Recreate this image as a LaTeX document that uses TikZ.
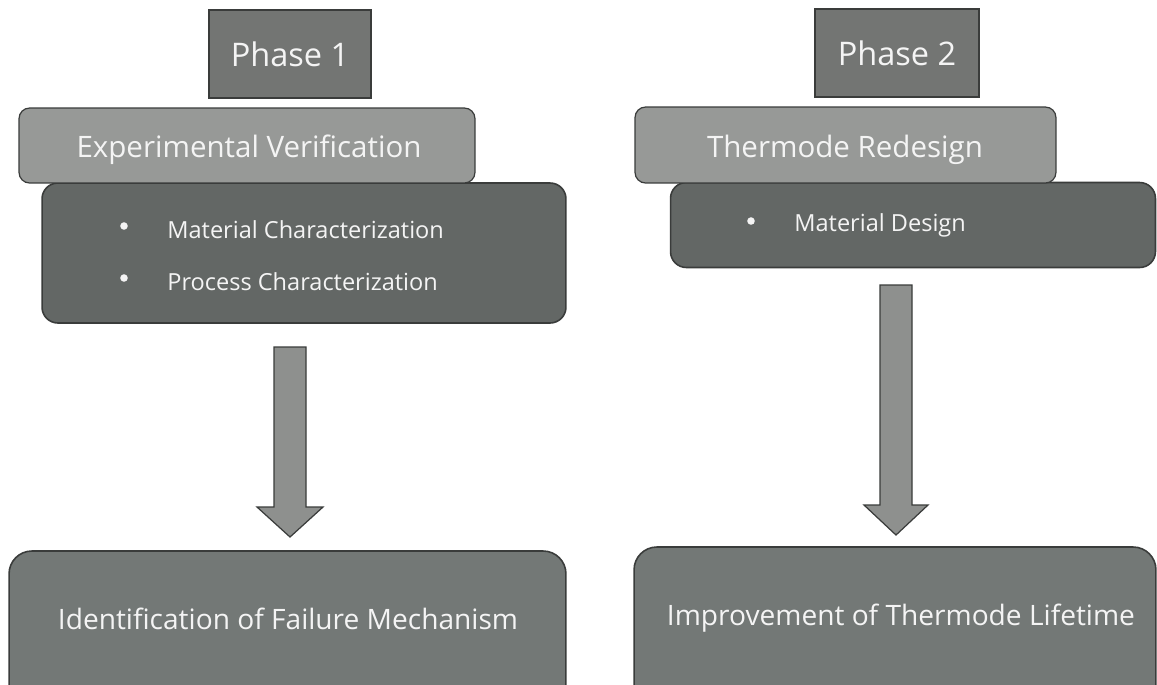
\documentclass[tikz,border=0pt]{standalone}
\usepackage{fontspec}
\setmainfont{Open Sans}
\definecolor{phasegray}{HTML}{737573}
\definecolor{headgray}{HTML}{979997}
\definecolor{listgray}{HTML}{636765}
\definecolor{outgray}{HTML}{737876}
\definecolor{arrowgray}{HTML}{8E908E}
\definecolor{edgegray}{HTML}{3A3C3B}
\definecolor{lettering}{HTML}{F4F4F4}
\tikzset{
  phasebox/.style={draw=edgegray, line width=0.9pt, fill=phasegray, inner sep=0pt,
    text=lettering, font=\fontsize{18.5}{22}\selectfont},
  headbox/.style={draw=edgegray, line width=0.7pt, fill=headgray, rounded corners=6pt,
    inner sep=0pt, text=lettering, font=\fontsize{16.8}{20}\selectfont},
  listbox/.style={draw=edgegray, line width=0.9pt, fill=listgray, rounded corners=9pt,
    inner sep=0pt},
  outbox/.style={draw=edgegray, line width=0.9pt, fill=outgray, rounded corners=13pt,
    inner sep=0pt},
  outtext/.style={text=lettering, font=\fontsize{16}{19}\selectfont},
  item/.style={anchor=west, inner sep=0pt, text=lettering, font=\fontsize{13.4}{16}\selectfont},
  dot/.style={circle, fill=lettering, inner sep=0pt, minimum size=4.3pt},
  blockarrow/.style={draw=edgegray, line width=0.7pt, fill=arrowgray, line join=miter}
}
\begin{document}
\begin{tikzpicture}[x=0.02cm, y=-0.02cm]
  \clip (0,0) rectangle (1157,684);
  \fill[white] (0,0) rectangle (1157,684);

  % phase 1
  \node[phasebox, minimum width=3.24cm, minimum height=1.76cm] (phaseA) at (290,54) {Phase 1};
  \node[listbox, minimum width=10.48cm, minimum height=2.8cm] (listA) at (304,253) {};
  \node[headbox, minimum width=9.12cm, minimum height=1.5cm] (headA) at (247,145.5) {};
  \node[headbox, draw=none, fill=none] (txtHA) at (249,150) {Experimental Verification};
  \node[dot] (dA1) at (124,226) {};
  \node[dot] (dA2) at (124,278) {};
  \node[item] (mA1) at (167,230) {Material Characterization};
  \node[item] (mA2) at (167,282) {Process Characterization};
  \node[outbox, minimum width=11.14cm, minimum height=3.2cm] (outA) at (287.5,631) {};
  \node[outtext] (txtA) at (288,619) {Identification of Failure Mechanism};

  % phase 2
  \node[phasebox, minimum width=3.28cm, minimum height=1.76cm] (phaseB) at (897,53) {Phase 2};
  \node[listbox, minimum width=9.7cm, minimum height=1.7cm] (listB) at (913,225) {};
  \node[headbox, minimum width=8.42cm, minimum height=1.52cm] (headB) at (845.5,145) {};
  \node[headbox, draw=none, fill=none] (txtHB) at (845,150) {Thermode Redesign};
  \node[dot] (dB1) at (751,221) {};
  \node[item] (mB1) at (794,225) {Material Design};
  \node[outbox, minimum width=10.44cm, minimum height=3.24cm] (outB) at (895,628) {};
  \node[outtext] (txtB) at (901,618) {Improvement of Thermode Lifetime};

  % block arrows
  \coordinate (topA) at (290,347);
  \coordinate (tipA) at (290,537);
  \coordinate (topB) at (896,285);
  \coordinate (tipB) at (896,535);
  \draw[blockarrow] (topA) ++(-16,0) -- ++(32,0) -- ++(0,160) -- ++(17,0)
    -- (tipA) -- ++(-33,-30) -- ++(17,0) -- cycle;
  \draw[blockarrow] (topB) ++(-16,0) -- ++(32,0) -- ++(0,220) -- ++(16,0)
    -- (tipB) -- ++(-32,-30) -- ++(16,0) -- cycle;
\end{tikzpicture}
\end{document}
